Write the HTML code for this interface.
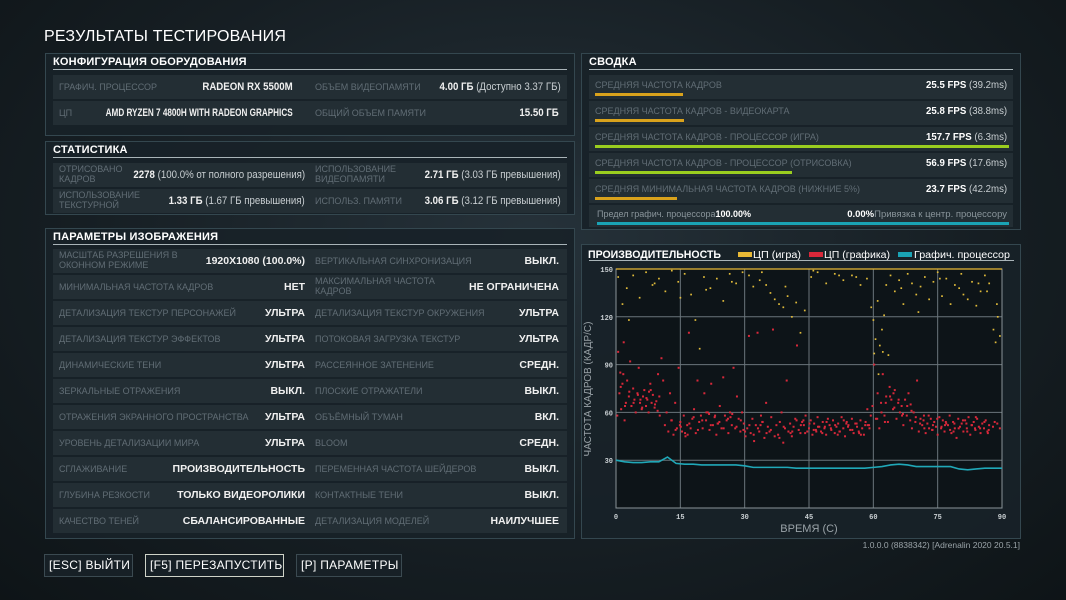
<!DOCTYPE html>
<html><head><meta charset="utf-8"><style>
*{box-sizing:border-box;margin:0;padding:0}
body{width:1066px;height:600px;overflow:hidden;font-family:"Liberation Sans","Noto Sans CJK SC",sans-serif;background:radial-gradient(ellipse at 50% 40%,#26323a 0%,#161e23 60%,#0e1417 100%);position:relative;color:#fff}
.abs{position:absolute}
.title{left:44px;top:28px;font-size:16px;letter-spacing:0.2px}
.panel{position:absolute;background:rgba(24,34,40,0.92);border:1px solid #34474f}
.ph{position:absolute;left:7px;top:2px;font-size:11px;font-weight:bold;letter-spacing:0.2px}
.pl{position:absolute;left:7px;right:7px;top:15px;height:1px;background:#a9b4b8}
.row{position:absolute;left:7px;right:7px;height:24px;background:#232e34}
.lab{position:absolute;font-size:9px;color:#616d75;top:7px;line-height:10px;white-space:nowrap}
.lab2{top:1px}
.val{position:absolute;font-size:11px;font-weight:bold;top:6px;white-space:nowrap;color:#f0f0f0;transform:scaleX(0.88);transform-origin:right center}
.val span{font-weight:normal;color:#c9cfd2}
.srow{position:absolute;left:7px;right:7px;height:24px;background:#232e34}
.slab{position:absolute;left:6px;top:5px;font-size:9px;color:#616d75}
.sval{position:absolute;right:6px;top:4px;font-size:10.5px;font-weight:bold;transform:scaleX(0.92);transform-origin:right center}
.sval span{font-weight:normal;color:#c9cfd2}
.bar{position:absolute;left:6px;top:18px;height:3px}
.btn{position:absolute;top:554px;height:23px;border:1px solid #3b4a51;background:#172026;font-size:12px;line-height:21px;padding-left:4px;letter-spacing:0.3px}
</style></head><body>
<div class="abs title">РЕЗУЛЬТАТЫ ТЕСТИРОВАНИЯ</div>

<div class="panel" style="left:45px;top:53px;width:530px;height:83px">
 <div class="ph">КОНФИГУРАЦИЯ ОБОРУДОВАНИЯ</div><div class="pl"></div>
 <div class="row" style="top:21px">
  <div class="lab" style="left:6px">ГРАФИЧ. ПРОЦЕССОР</div><div class="val" style="right:274px">RADEON RX 5500M</div>
  <div class="lab" style="left:262px">ОБЪЕМ ВИДЕОПАМЯТИ</div><div class="val" style="right:6px">4.00 ГБ <span>(Доступно 3.37 ГБ)</span></div></div>
 <div class="row" style="top:47px">
  <div class="lab" style="left:6px">ЦП</div><div class="val" style="right:274px;transform:scaleX(0.74)">AMD RYZEN 7 4800H WITH RADEON GRAPHICS</div>
  <div class="lab" style="left:262px">ОБЩИЙ ОБЪЕМ ПАМЯТИ</div><div class="val" style="right:8px">15.50 ГБ</div></div>
</div>

<div class="panel" style="left:45px;top:141px;width:530px;height:74px">
 <div class="ph">СТАТИСТИКА</div><div class="pl"></div>
 <div class="row" style="top:21px">
  <div class="lab lab2" style="left:6px">ОТРИСОВАНО<br>КАДРОВ</div><div class="val" style="right:262px">2278 <span>(100.0% от полного разрешения)</span></div>
  <div class="lab lab2" style="left:262px">ИСПОЛЬЗОВАНИЕ<br>ВИДЕОПАМЯТИ</div><div class="val" style="right:6px">2.71 ГБ <span>(3.03 ГБ превышения)</span></div></div>
 <div class="row" style="top:47px">
  <div class="lab lab2" style="left:6px">ИСПОЛЬЗОВАНИЕ<br>ТЕКСТУРНОЙ</div><div class="val" style="right:262px">1.33 ГБ <span>(1.67 ГБ превышения)</span></div>
  <div class="lab" style="left:262px">ИСПОЛЬЗ. ПАМЯТИ</div><div class="val" style="right:6px">3.06 ГБ <span>(3.12 ГБ превышения)</span></div></div>
</div>

<div class="panel" style="left:45px;top:228px;width:530px;height:311px">
 <div class="ph">ПАРАМЕТРЫ ИЗОБРАЖЕНИЯ</div><div class="pl"></div>
 <div id="rows"></div>
</div>

<div class="panel" style="left:581px;top:53px;width:440px;height:177px">
 <div class="ph">СВОДКА</div><div class="pl"></div>
 <div class="srow" style="top:21px"><div class="slab">СРЕДНЯЯ ЧАСТОТА КАДРОВ</div><div class="sval">25.5 FPS <span>(39.2ms)</span></div><div class="bar" style="width:88px;background:#d9a21c"></div></div>
 <div class="srow" style="top:47px"><div class="slab">СРЕДНЯЯ ЧАСТОТА КАДРОВ - ВИДЕОКАРТА</div><div class="sval">25.8 FPS <span>(38.8ms)</span></div><div class="bar" style="width:89px;background:#d9a21c"></div></div>
 <div class="srow" style="top:73px"><div class="slab">СРЕДНЯЯ ЧАСТОТА КАДРОВ - ПРОЦЕССОР (ИГРА)</div><div class="sval">157.7 FPS <span>(6.3ms)</span></div><div class="bar" style="width:414px;background:#9acd1f"></div></div>
 <div class="srow" style="top:99px"><div class="slab">СРЕДНЯЯ ЧАСТОТА КАДРОВ - ПРОЦЕССОР (ОТРИСОВКА)</div><div class="sval">56.9 FPS <span>(17.6ms)</span></div><div class="bar" style="width:197px;background:#9acd1f"></div></div>
 <div class="srow" style="top:125px"><div class="slab">СРЕДНЯЯ МИНИМАЛЬНАЯ ЧАСТОТА КАДРОВ (НИЖНИЕ 5%)</div><div class="sval">23.7 FPS <span>(42.2ms)</span></div><div class="bar" style="width:82px;background:#d9a21c"></div></div>
 <div class="srow" style="top:151px;height:22px"><div class="slab" style="font-size:9px;color:#8a959b;left:8px;top:4px">Предел графич. процессора<b style="color:#fff">100.00%</b></div><div class="sval" style="font-size:9.5px;font-weight:normal;color:#8a959b;top:4px;transform:none"><b style="color:#fff">0.00%</b>Привязка к центр. процессору</div><div class="bar" style="left:8px;right:4px;top:17px;background:#1aa3b5"></div></div>
</div>

<div class="panel" style="left:581px;top:244px;width:440px;height:295px">
 <svg id="chart" width="440" height="295" style="position:absolute;left:-1px;top:-1px">
  <text x="7" y="14" fill="#fff" font-size="11" font-weight="bold" font-family="Liberation Sans, sans-serif" textLength="133" lengthAdjust="spacingAndGlyphs">ПРОИЗВОДИТЕЛЬНОСТЬ</text>
  <rect x="157" y="8" width="14" height="5" fill="#e8b936"/>
  <text x="172" y="14" fill="#fff" font-size="10" font-family="Liberation Sans, sans-serif" textLength="48" lengthAdjust="spacingAndGlyphs">ЦП (игра)</text>
  <rect x="228" y="8" width="14" height="5" fill="#d8283a"/>
  <text x="243" y="14" fill="#fff" font-size="10" font-family="Liberation Sans, sans-serif" textLength="66" lengthAdjust="spacingAndGlyphs">ЦП (графика)</text>
  <rect x="317" y="8" width="14" height="5" fill="#1aa3b5"/>
  <text x="333" y="14" fill="#fff" font-size="10" font-family="Liberation Sans, sans-serif" textLength="96" lengthAdjust="spacingAndGlyphs">Графич. процессор</text>
  <rect x="8" y="16" width="425" height="1" fill="#a9b4b8"/>
  <rect x="35" y="25" width="386" height="239" fill="#0d1418"/>
  <g id="grid"></g><g id="marks"></g>
  <text x="10" y="145" fill="#9aa3a8" font-size="10" text-anchor="middle" transform="rotate(-90 10 145)" font-family="Liberation Sans, sans-serif">ЧАСТОТА КАДРОВ (КАДР/С)</text>
  <text x="228" y="288" fill="#9aa3a8" font-size="11" text-anchor="middle" font-family="Liberation Sans, sans-serif">ВРЕМЯ (С)</text>
 </svg>
</div>

<div class="abs" style="right:46px;top:540px;font-size:8.5px;color:#9aa3a8">1.0.0.0 (8838342) [Adrenalin 2020 20.5.1]</div>

<div class="btn" style="left:44px;width:89px">[ESC] ВЫЙТИ</div>
<div class="btn" style="left:145px;width:139px;border-color:#cfd3c8">[F5] ПЕРЕЗАПУСТИТЬ</div>
<div class="btn" style="left:296px;width:106px">[P] ПАРАМЕТРЫ</div>

<script>
const settings=[
["МАСШТАБ РАЗРЕШЕНИЯ В<br>ОКОННОМ РЕЖИМЕ","1920X1080 (100.0%)","ВЕРТИКАЛЬНАЯ СИНХРОНИЗАЦИЯ","ВЫКЛ."],
["МИНИМАЛЬНАЯ ЧАСТОТА КАДРОВ","НЕТ","МАКСИМАЛЬНАЯ ЧАСТОТА<br>КАДРОВ","НЕ ОГРАНИЧЕНА"],
["ДЕТАЛИЗАЦИЯ ТЕКСТУР ПЕРСОНАЖЕЙ","УЛЬТРА","ДЕТАЛИЗАЦИЯ ТЕКСТУР ОКРУЖЕНИЯ","УЛЬТРА"],
["ДЕТАЛИЗАЦИЯ ТЕКСТУР ЭФФЕКТОВ","УЛЬТРА","ПОТОКОВАЯ ЗАГРУЗКА ТЕКСТУР","УЛЬТРА"],
["ДИНАМИЧЕСКИЕ ТЕНИ","УЛЬТРА","РАССЕЯННОЕ ЗАТЕНЕНИЕ","СРЕДН."],
["ЗЕРКАЛЬНЫЕ ОТРАЖЕНИЯ","ВЫКЛ.","ПЛОСКИЕ ОТРАЖАТЕЛИ","ВЫКЛ."],
["ОТРАЖЕНИЯ ЭКРАННОГО ПРОСТРАНСТВА","УЛЬТРА","ОБЪЁМНЫЙ ТУМАН","ВКЛ."],
["УРОВЕНЬ ДЕТАЛИЗАЦИИ МИРА","УЛЬТРА","BLOOM","СРЕДН."],
["СГЛАЖИВАНИЕ","ПРОИЗВОДИТЕЛЬНОСТЬ","ПЕРЕМЕННАЯ ЧАСТОТА ШЕЙДЕРОВ","ВЫКЛ."],
["ГЛУБИНА РЕЗКОСТИ","ТОЛЬКО ВИДЕОРОЛИКИ","КОНТАКТНЫЕ ТЕНИ","ВЫКЛ."],
["КАЧЕСТВО ТЕНЕЙ","СБАЛАНСИРОВАННЫЕ","ДЕТАЛИЗАЦИЯ МОДЕЛЕЙ","НАИЛУЧШЕЕ"]];
const rowsEl=document.getElementById('rows');
settings.forEach((s,i)=>{
 const r=document.createElement('div');r.className='row';r.style.top=(20+i*26)+'px';
 
 
 const two1=s[0].includes('<br>')?' lab2':'',two2=s[2].includes('<br>')?' lab2':'';
 r.innerHTML=`<div class="lab${two1}" style="left:6px">${s[0]}</div><div class="val" style="right:262px;transform:none;font-size:10.5px">${s[1]}</div><div class="lab${two2}" style="left:262px">${s[2]}</div><div class="val" style="right:8px;transform:none;font-size:10.5px">${s[3]}</div>`;
 rowsEl.appendChild(r);
});
</script>
<script>
const xTicks=[0,15,30,45,60,75,90];
const yTicks=[30,60,90,120,150];
const gpuFps=[30,29,28.5,28.5,29,29,32,28,27.5,27.5,27,27,27,27,27,26.5,25.5,25.5,25.5,25.5,25.5,25,25,25,25,25,25,25,25,25,25.5,26,27,27.5,27,26,26,26,26,26,24.5,24,24.5,25,25,25];
const redT=[0.3,0.5,0.8,1,1.2,1.5,1.8,2,2.3,2.6,3,3.3,3.6,4,4.3,4.6,5,5.3,5.6,6,6.3,6.6,7,7.3,7.6,8,8.3,8.6,9,9.4,9.8,10.2,10.6,11,11.4,11.8,12.2,12.6,13,13.4,13.8,14.2,14.6,15,15.4,15.8,16.2,16.6,17,17.4,17.8,18.2,18.6,19,19.4,19.8,20.2,20.6,21,21.4,21.8,22.2,22.6,23,23.4,23.8,24.2,24.6,25,25.4,25.8,26.2,26.6,27,27.4,27.8,28.2,28.6,29,29.4,29.8,30.2,30.6,31,31.4,31.8,32.2,32.6,33,33.4,33.8,34.2,34.6,35,35.4,35.8,36.2,36.6,37,37.4,37.8,38.2,38.6,39,39.4,39.8,40.2,40.6,41,41.4,41.8,42.2,42.6,43,43.4,43.8,44.2,44.6,45,45.4,45.8,46.2,46.6,47,47.4,47.8,48.2,48.6,49,49.4,49.8,50.2,50.6,51,51.4,51.8,52.2,52.6,53,53.4,53.8,54.2,54.6,55,55.4,55.8,56.2,56.6,57,57.4,57.8,58.2,58.6,59,59.4,59.8,60.2,60.6,61,61.4,61.8,62.2,62.6,63,63.4,63.8,64.2,64.6,65,65.4,65.8,66.2,66.6,67,67.4,67.8,68.2,68.6,69,69.4,69.8,70.2,70.6,71,71.4,71.8,72.2,72.6,73,73.4,73.8,74.2,74.6,75,75.4,75.8,76.2,76.6,77,77.4,77.8,78.2,78.6,79,79.4,79.8,80.2,80.6,81,81.4,81.8,82.2,82.6,83,83.4,83.8,84.2,84.6,85,85.4,85.8,86.2,86.6,87,87.4,87.8,88.2,88.6,89,89.4];
const redV=[58,98,72,85,62,78,104,55,66,80,70,92,64,75,68,60,72,88,66,62,70,74,64,68,60,78,66,71,63,67,84,58,94,80,52,60,48,72,55,46,66,50,88,54,48,58,45,52,110,50,56,62,47,80,54,58,50,72,55,60,49,78,52,57,46,53,64,50,82,58,55,47,60,52,88,50,70,56,48,60,53,45,50,108,47,56,42,52,110,48,58,54,44,66,51,48,57,112,45,52,46,54,60,41,50,80,48,53,45,51,56,102,49,47,54,52,58,48,50,55,46,53,49,57,51,48,54,50,46,56,52,49,55,47,51,53,48,57,50,45,54,52,49,56,47,53,51,48,55,50,46,54,62,52,58,64,90,56,72,50,66,84,58,70,54,76,68,62,74,56,66,60,64,52,68,58,72,55,50,60,54,80,48,56,52,58,47,53,50,56,49,54,51,46,57,50,55,48,53,52,58,47,54,50,44,56,51,53,48,55,50,57,46,52,54,49,56,51,47,53,50,55,48,52];
const redT2=[1.1,2.1,3.1,4.1,5.1,6.1,7.1,8.1,9.1,10.1,12.9,13.9,15.1,16.1,17.1,18.1,19.1,20.1,21.1,22.1,23.1,24.1,25.1,26.1,27.1,28.1,29.1,30.1,31.1,32.1,33.1,34.1,35.1,36.1,38.1,39.1,41.1,42.1,43.1,44.1,45.1,46.1,47.1,48.1,49.1,50.1,51.1,52.1,53.1,54.1,55.1,56.1,57.1,58.1,59.1,60.9,61.9,62.9,63.9,64.9,65.9,66.9,67.9,68.9,69.9,70.9,71.9,72.9,73.9,74.9,75.9,76.9,77.9,78.9,79.9,80.9,81.9,82.9,83.9,84.9,85.9,86.9,87.9,88.9,89.5,1.7,5.7,7.7,9.7,14.9,16.7,21.7,23.7,26.7,29.7,33.7,40.7,43.7,46.7,48.7,51.7,53.7,56.7,58.7,62.7,64.7,66.7,68.7,71.7,73.7,76.7,78.7,81.7,83.7,86.7,88.3];
const redV2=[76,64,73,66,71,63,69,74,65,70,55,49,51,47,53,57,49,55,60,52,58,54,50,56,59,51,55,48,52,46,50,54,47,49,44,51,48,55,52,47,53,49,51,47,54,50,52,48,55,51,49,53,46,52,50,56,60,66,70,63,68,59,64,61,57,53,50,58,52,56,51,54,49,53,50,55,48,52,57,50,54,49,51,53,50,84,68,73,61,52,46,59,53,57,49,52,47,55,48,51,46,53,47,52,54,72,58,65,55,49,52,48,53,50,47,54,51];
const yelT=[0.5,1.5,2.5,4,5.5,7,8.5,10,11.5,13,14.5,16,17.5,18.5,19.5,20.5,22,23.5,25,26.5,28,29.5,31,32,33.5,35,36,37,38,39,40,41,42,43,44,45.5,47,49,51,53,55,57,58.5,59.5,60,60.5,61,61.5,62,62.5,63,64,65,66,67,68,69,70,71,72,73,74,75,76,77,78,79,80,81,82,83,84,85,86,87,88,88.5,89,89.5,3,9,15,21,27,34,39.5,46,52,56,60.2,61.2,62.2,63.5,66.5,70.5,75.5,80.5,84.5,86.5,88.8];
const yelV=[145,128,138,146,132,148,140,144,136,149,142,147,134,118,100,145,138,144,130,147,141,148,146,139,143,140,135,131,128,126,133,120,129,110,124,145,148,141,147,143,146,140,144,126,118,106,130,102,112,121,140,146,136,143,128,147,141,134,139,145,131,142,148,133,144,128,140,138,134,131,142,127,136,146,141,112,104,120,108,118,141,132,137,142,148,139,149,146,145,97,84,98,96,138,123,144,147,141,136,128,115];
const plot={l:35,r:421,t:25,b:264};
const xs=t=>plot.l+t/90*(plot.r-plot.l);
const ys=v=>plot.b-v/150*(plot.b-plot.t);
const NS='http://www.w3.org/2000/svg';
const grid=document.getElementById('grid'),marks=document.getElementById('marks');
function mk(tag,attrs,parent){const e=document.createElementNS(NS,tag);for(const k in attrs)e.setAttribute(k,attrs[k]);parent.appendChild(e);return e;}
xTicks.forEach(t=>{
 const ln=mk('line',{x1:xs(t),x2:xs(t),y1:plot.t,y2:plot.b,stroke:'#6a757a','stroke-width':1},grid);
 
 
 const tx=mk('text',{x:xs(t),y:plot.b+11,fill:'#c9cfd2','font-size':7,'text-anchor':'middle','font-family':'Liberation Mono, monospace','font-weight':'bold'},grid);tx.textContent=t;
 
 
});
yTicks.forEach(v=>{
 const ln=mk('line',{x1:plot.l,x2:plot.r,y1:ys(v),y2:ys(v),stroke:'#6a757a','stroke-width':1},grid);
 
 
 const tx=mk('text',{x:plot.l-3,y:ys(v)+3,fill:'#c9cfd2','font-size':7,'text-anchor':'end','font-family':'Liberation Mono, monospace','font-weight':'bold'},grid);tx.textContent=v;
 
 
});
mk('rect',{x:plot.l,y:plot.t,width:plot.r-plot.l,height:plot.b-plot.t,fill:'none',stroke:'#8a9499'},grid);
const cap=mk('line',{x1:plot.l,x2:plot.r,y1:ys(150),y2:ys(150),stroke:'#e8b936','stroke-width':1.2},marks);


yelT.forEach((t,i)=>{
 if(yelV[i]===undefined)return;
 const d=mk('rect',{x:xs(t)-0.8,y:ys(yelV[i])-0.8,width:1.7,height:1.7,fill:'#e0bb3a'},marks);
 
 
});
function redPts(T,V){T.forEach((t,i)=>{
 if(V[i]===undefined)return;
 const d=mk('rect',{x:xs(t)-1,y:ys(V[i])-1,width:2,height:2,fill:'#d8283a'},marks);
 
 
});}
redPts(redT,redV);redPts(redT2,redV2);
const pts=gpuFps.map((v,i)=>xs(Math.min(i*2,90))+','+ys(v)).join(' ');
const gl=mk('polyline',{points:pts,fill:'none',stroke:'#20a8b8','stroke-width':1.6},marks);


</script>
</body></html>
